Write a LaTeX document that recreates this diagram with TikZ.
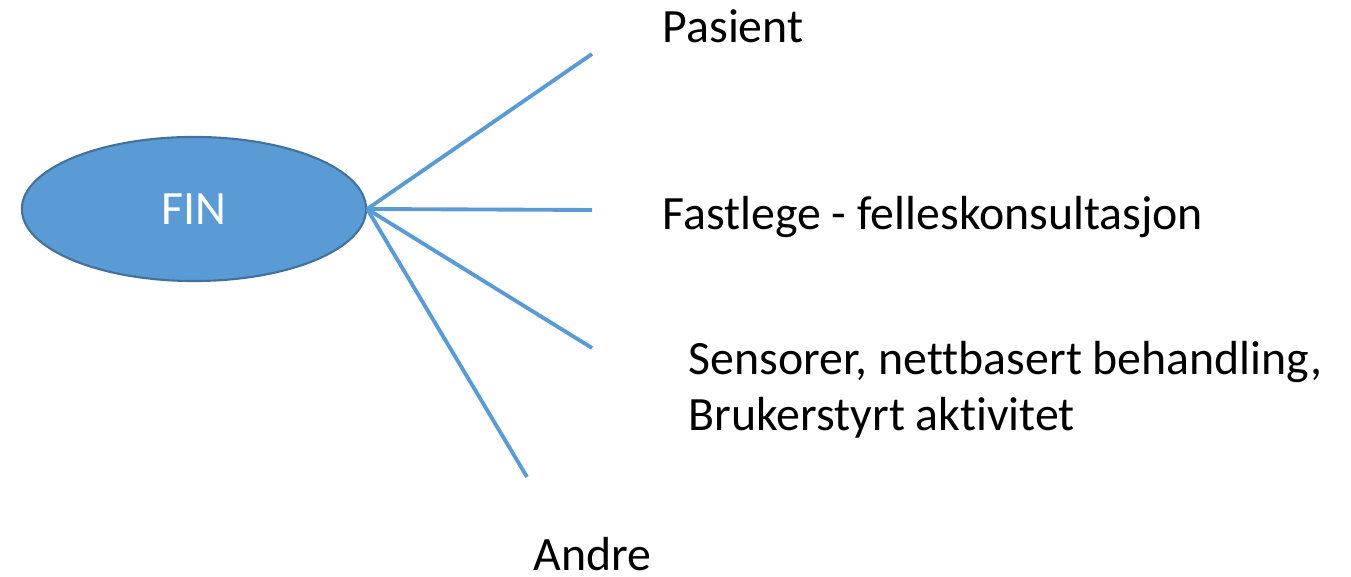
\documentclass[tikz,border=0pt]{standalone}
\usepackage{fontspec}
\setmainfont[Ligatures=NoCommon]{Carlito}
\usetikzlibrary{shapes.geometric}
\definecolor{finblue}{HTML}{5B9BD5}
\definecolor{finedge}{HTML}{41719C}

\begin{document}
\begin{tikzpicture}[x=0.01cm,y=-0.01cm,
		hub/.style={ellipse,draw=finedge,line width=0.6pt,fill=finblue,
			minimum width=3.44cm,minimum height=1.44cm,inner sep=0pt,
			text=white,font=\fontsize{13.6}{16}\selectfont},
		spoke/.style={draw=finblue,line width=1.1pt},
		lbl/.style={anchor=base west,inner sep=0pt,align=left,
			font=\fontsize{13.6}{16.2}\selectfont}]
		\useasboundingbox (0,0) rectangle (1351,577);
		\node[hub](fin) at (194,209){FIN};
		\coordinate (p1) at (592,54);
		\coordinate (p2) at (592,210);
		\coordinate (p3) at (592,348);
		\coordinate (p4) at (527,477);
		\draw[spoke] (fin.east) -- (p1);
		\draw[spoke] (fin.east) -- (p2);
		\draw[spoke] (fin.east) -- (p3);
		\draw[spoke] (fin.east) -- (p4);
		\node[lbl](pasient) at (662,43){Pasient};
		\node[lbl](fastlege) at (662,230){Fastlege - felleskonsultasjon};
		\node[lbl](sensorer) at (688,431){Sensorer, nettbasert behandling,\\Brukerstyrt aktivitet};
		\node[lbl](andre) at (533,571){Andre};
	\end{tikzpicture}
\end{document}
